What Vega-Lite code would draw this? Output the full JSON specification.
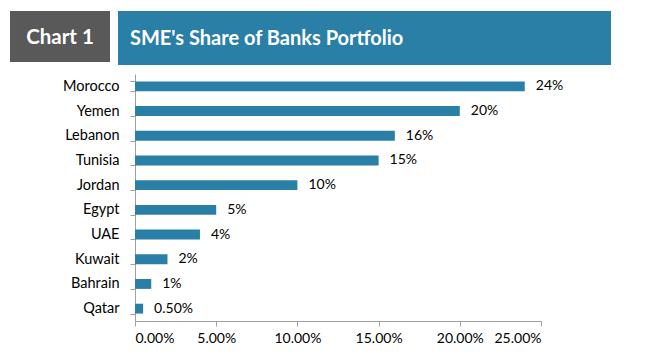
{
  "$schema": "https://vega.github.io/schema/vega-lite/v6.json",
  "background": "white",
  "padding": {"left": 10, "top": 11, "right": 0, "bottom": 0},
  "autosize": {"type": "pad"},
  "config": {
    "view": {"stroke": null},
    "font": "Lato",
    "text": {"font": "Lato"}
  },
  "spacing": 1,
  "vconcat": [
    {
      "spacing": 8,
      "hconcat": [
        {
          "width": 100,
          "height": 51,
          "view": {"fill": "#595959", "stroke": null},
          "data": {"values": [{"label": "Chart 1"}]},
          "mark": {"type": "text", "font": "Lato", "fontWeight": "bold", "fontSize": 20.5, "color": "white", "baseline": "middle", "align": "center", "dy": 1},
          "encoding": {"text": {"field": "label"}}
        },
        {
          "width": 493,
          "height": 54,
          "view": {"fill": "#2A7FA7", "stroke": null},
          "data": {"values": [{"label": "SME's Share of Banks Portfolio"}]},
          "mark": {"type": "text", "font": "Lato", "fontWeight": "bold", "fontSize": 20, "color": "white", "baseline": "middle", "align": "left", "x": 12, "dy": 1},
          "encoding": {"text": {"field": "label"}}
        }
      ]
    },
    {
      "width": 531,
      "height": 247,
      "data": {
        "values": [
          {"country": "Morocco", "share": 0.24, "label": "24%"},
          {"country": "Yemen", "share": 0.20, "label": "20%"},
          {"country": "Lebanon", "share": 0.16, "label": "16%"},
          {"country": "Tunisia", "share": 0.15, "label": "15%"},
          {"country": "Jordan", "share": 0.10, "label": "10%"},
          {"country": "Egypt", "share": 0.05, "label": "5%"},
          {"country": "UAE", "share": 0.04, "label": "4%"},
          {"country": "Kuwait", "share": 0.02, "label": "2%"},
          {"country": "Bahrain", "share": 0.01, "label": "1%"},
          {"country": "Qatar", "share": 0.005, "label": "0.50%"}
        ]
      },
      "encoding": {
        "y": {
          "field": "country",
          "type": "nominal",
          "sort": null,
          "scale": {"paddingInner": 0.6, "paddingOuter": 0.3},
          "axis": {
            "title": null,
            "offset": -125,
            "tickBand": "extent",
            "domainColor": "#A0A0A0",
            "tickColor": "#A0A0A0",
            "tickSize": 5,
            "labelPadding": 11,
            "labelFont": "Lato",
            "labelFontSize": 14.5,
            "labelColor": "#000000",
            "grid": false
          }
        },
        "x": {
          "field": "share",
          "type": "quantitative",
          "scale": {"domain": [0, 0.25], "range": [125, 531], "nice": false},
          "axis": {
            "title": null,
            "values": [0, 0.05, 0.1, 0.15, 0.2, 0.25],
            "format": ".2%",
            "grid": false,
            "domainColor": "#A0A0A0",
            "tickColor": "#A0A0A0",
            "tickSize": 5,
            "labelPadding": 5,
            "labelFont": "Lato",
            "labelFontSize": 14,
            "labelColor": "#000000"
          }
        }
      },
      "layer": [
        {"mark": {"type": "bar", "color": "#2A7FA7"}},
        {
          "mark": {"type": "text", "align": "left", "baseline": "middle", "dx": 11, "fontSize": 14, "font": "Lato", "color": "#000000"},
          "encoding": {"text": {"field": "label"}}
        }
      ]
    }
  ]
}
